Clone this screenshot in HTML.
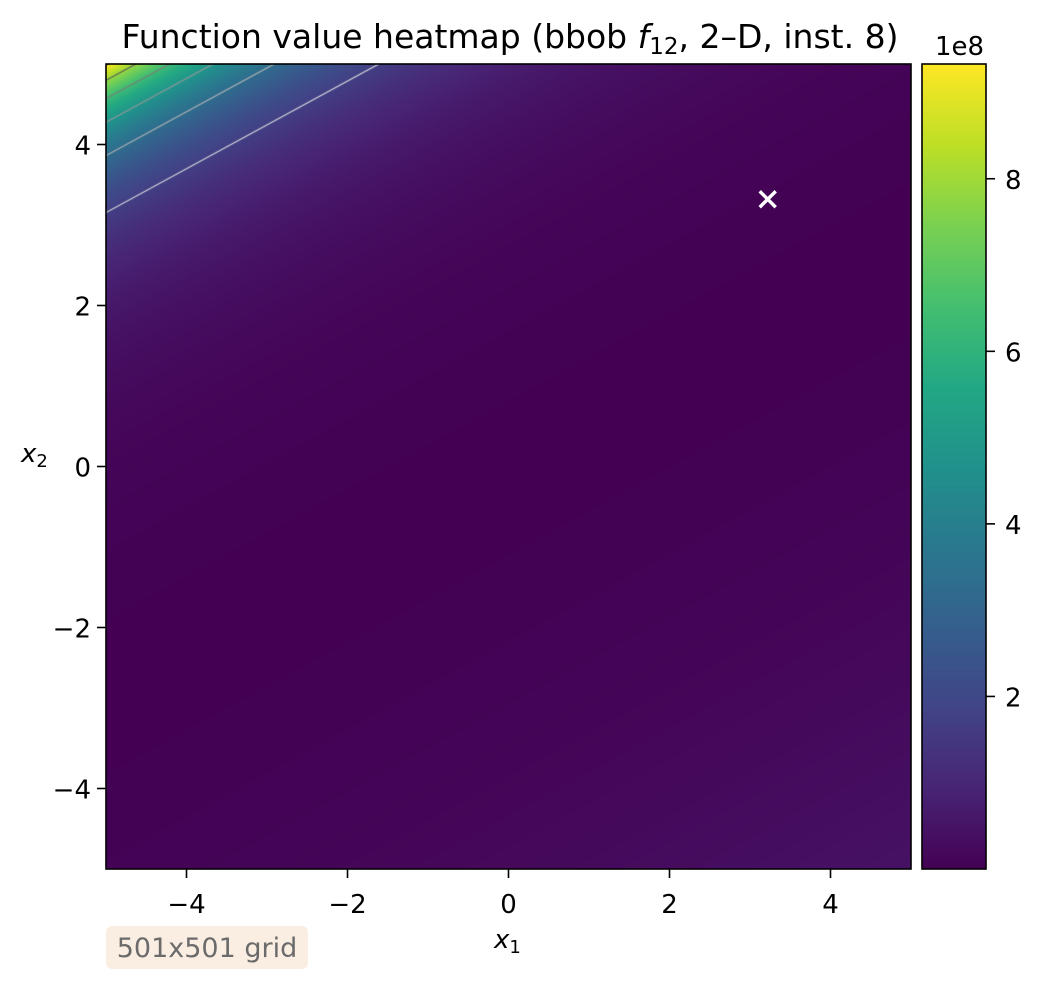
<!DOCTYPE html>
<html><head><meta charset="utf-8"><style>
body{margin:0;background:#fff;font-family:"DejaVu Sans","Liberation Sans",sans-serif;}
#wrap{position:relative;width:1043px;height:982px;overflow:hidden;}
</style></head><body>
<div id="wrap">
<canvas id="hm" width="805" height="805" style="position:absolute;left:106px;top:64px"></canvas>
<canvas id="cb" width="64" height="805" style="position:absolute;left:922px;top:64px"></canvas>
<div style="position:absolute;left:106px;top:926px;width:202px;height:43px;background:#faeee2;border-radius:6px"></div>
<svg id="ov" width="1043" height="982" style="position:absolute;left:0;top:0;font-family:'DejaVu Sans','Liberation Sans',sans-serif"></svg>
</div>
<script>
// ---- data ----
const xTicks = [-4, -2, 0, 2, 4];
const yTicks = [-4, -2, 0, 2, 4];
const cbTicks = [2, 4, 6, 8];           // x1e8
const contourLevels = [1.5e8, 3e8, 4.5e8, 6e8, 7.5e8, 9e8];
const contourColors = ['#e0e0e0', '#b8b8b8', '#999', '#7a7a7a', '#555', '#333'];
const optimum = [3.22, 3.32];
// model parameters: f = L0*exp(-a*s) + B*((s - s0)/w)^2, s = nx*x + ny*y + c
const normalDir = [0.478, -0.878];
const modelOffset = [5.16];
const expParams = [1.5e8, 1.116];
const valleyParams = [0.45e8, 5.0, 6.94];
const colorRange = [0, 9.33e8];
const domain = [-5, 5];

// ---- scales ----
const PX0 = 106, PY0 = 64, W = 805, H = 805;
const sx = v => PX0 + (v - domain[0]) / (domain[1] - domain[0]) * W;
const sy = v => PY0 + (domain[1] - v) / (domain[1] - domain[0]) * H;
const sVal = (x, y) => normalDir[0] * x + normalDir[1] * y + modelOffset[0];
function f(x, y) {
  const s = sVal(x, y);
  const q = (s - valleyParams[1]) / valleyParams[2];
  return expParams[0] * Math.exp(-expParams[1] * s) + valleyParams[0] * q * q;
}
const VIR = [[68,1,84],[72,36,117],[65,68,135],[53,95,141],[42,120,142],[33,145,140],[34,168,132],[68,191,112],[122,209,81],[189,223,38],[253,231,37]];
function viridis(t) {
  t = Math.max(0, Math.min(1, t)) * (VIR.length - 1);
  const i = Math.min(VIR.length - 2, Math.floor(t)), r = t - i;
  return VIR[i].map((c, k) => Math.round(c + (VIR[i + 1][k] - c) * r));
}
// heatmap
const hm = document.getElementById('hm'), ctx = hm.getContext('2d');
const img = ctx.createImageData(W, H);
for (let j = 0; j < H; j++) for (let i = 0; i < W; i++) {
  const x = domain[0] + (i + 0.5) / W * 10, y = domain[1] - (j + 0.5) / H * 10;
  const c = viridis((f(x, y) - colorRange[0]) / (colorRange[1] - colorRange[0]));
  const o = (j * W + i) * 4; img.data[o] = c[0]; img.data[o + 1] = c[1]; img.data[o + 2] = c[2]; img.data[o + 3] = 255;
}
ctx.putImageData(img, 0, 0);
// contours
ctx.lineWidth = 1.1;
contourLevels.forEach((L, k) => {
  const s = -Math.log(L / expParams[0]) / expParams[1];
  const yAt = x => (s - modelOffset[0] - normalDir[0] * x) / normalDir[1];
  ctx.strokeStyle = contourColors[k];
  ctx.beginPath();
  ctx.moveTo(sx(-5) - PX0, sy(yAt(-5)) - PY0);
  ctx.lineTo(sx(5) - PX0, sy(yAt(5)) - PY0);
  ctx.stroke();
});
// colorbar
const cb = document.getElementById('cb'), cc = cb.getContext('2d');
for (let j = 0; j < H; j++) {
  const c = viridis(1 - j / H);
  cc.fillStyle = `rgb(${c[0]},${c[1]},${c[2]})`; cc.fillRect(0, j, 64, 1);
}
// overlay
const NS = 'http://www.w3.org/2000/svg', ov = document.getElementById('ov');
function el(tag, attrs, text) {
  const e = document.createElementNS(NS, tag);
  for (const k in attrs) e.setAttribute(k, attrs[k]);
  if (text !== undefined) e.textContent = text;
  ov.appendChild(e); return e;
}
const fmt = v => v < 0 ? '\u2212' + Math.abs(v) : String(v);
const FS = 26;
let e;
e = el('rect', {x: PX0, y: PY0, width: W, height: H, fill: 'none', stroke: '#000', 'stroke-width': 1.6});


xTicks.forEach(v => {
  const t = el('line', {x1: sx(v), x2: sx(v), y1: PY0 + H, y2: PY0 + H + 9, stroke: '#000', 'stroke-width': 1.6});
  
  
  const l = el('text', {x: sx(v), y: 913, 'font-size': FS, 'text-anchor': 'middle'}, fmt(v));
  
  
});
yTicks.forEach(v => {
  const t = el('line', {x1: PX0 - 9, x2: PX0, y1: sy(v), y2: sy(v), stroke: '#000', 'stroke-width': 1.6});
  
  
  const l = el('text', {x: 91, y: sy(v) + 10, 'font-size': FS, 'text-anchor': 'end'}, fmt(v));
  
  
});
e = el('rect', {x: 922, y: PY0, width: 64, height: H, fill: 'none', stroke: '#000', 'stroke-width': 1.6});


cbTicks.forEach(v => {
  const y = PY0 + H * (1 - (v * 1e8 - colorRange[0]) / (colorRange[1] - colorRange[0]));
  const t = el('line', {x1: 986, x2: 995, y1: y, y2: y, stroke: '#000', 'stroke-width': 1.6});
  
  
  const l = el('text', {x: 1005, y: y + 10, 'font-size': FS}, String(v));
  
  
});
e = el('text', {x: 935, y: 55, 'font-size': FS}, '1e8');


// optimum marker
const ox = sx(optimum[0]), oy = sy(optimum[1]);
e = el('path', {d: `M${ox-8},${oy-8}L${ox+8},${oy+8}M${ox-8},${oy+8}L${ox+8},${oy-8}`, stroke: '#fff', 'stroke-width': 3.4});


// title & labels
e = el('text', {x: 510, y: 48, 'font-size': 33, 'text-anchor': 'middle'});


e.innerHTML = 'Function value heatmap (bbob <tspan font-style="italic">f</tspan><tspan font-size="23" dy="6">12</tspan><tspan dy="-6">, 2\u2013D, inst. 8)</tspan>';
e = el('text', {x: 494, y: 948, 'font-size': FS});


e.innerHTML = '<tspan font-style="italic">x</tspan><tspan font-size="18" dy="5">1</tspan>';
e = el('text', {x: 21, y: 462, 'font-size': FS});


e.innerHTML = '<tspan font-style="italic">x</tspan><tspan font-size="18" dy="5">2</tspan>';
e = el('text', {x: 207, y: 957, 'font-size': 27, 'text-anchor': 'middle', fill: '#6b6b6b'}, '501x501 grid');


</script>
</body></html>
